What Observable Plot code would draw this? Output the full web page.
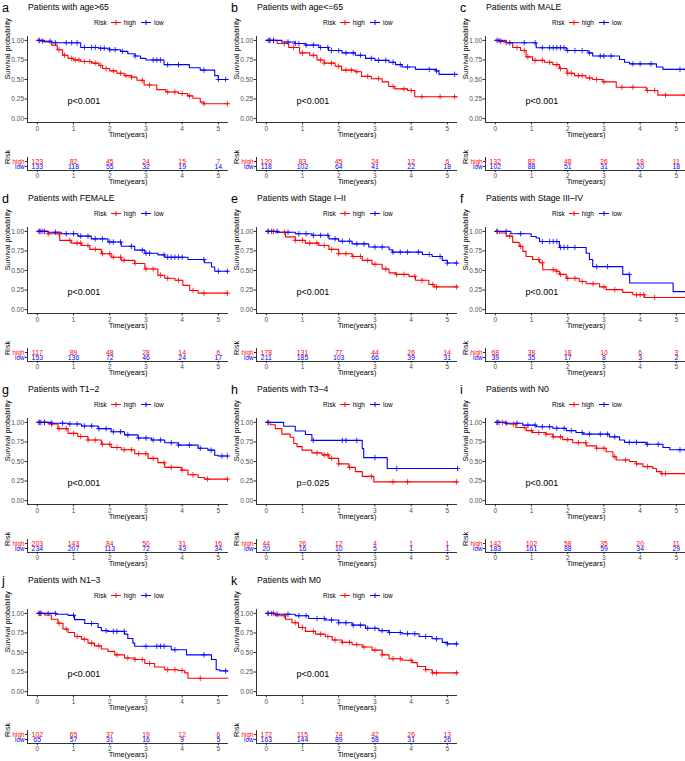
<!DOCTYPE html>
<html><head><meta charset="utf-8">
<script src="https://cdn.jsdelivr.net/npm/d3@7"></script>
<script src="https://cdn.jsdelivr.net/npm/@observablehq/plot@0.6"></script>
<style>
body{margin:0;background:#fff;font-family:"Liberation Sans",Arial,Helvetica,sans-serif;}
#root{position:relative;width:685px;height:761px;overflow:hidden;background:#fff;}
.panel{position:absolute;width:228px;height:191px;}
.letter{position:absolute;left:2px;top:2px;font-size:12.5px;line-height:12.5px;color:#000;}
.title{position:absolute;left:28px;top:2.5px;font-size:8.7px;line-height:8.7px;color:#000;white-space:nowrap;}
.legend{position:absolute;left:94px;top:19px;height:7px;display:flex;align-items:center;font-size:6.5px;line-height:7px;color:#000;white-space:nowrap;}
.legend svg{display:block;margin:0 3px;}
.panel > svg{position:absolute;left:0;overflow:visible;}
</style>
</head><body><div id="root"></div>
<script>
// ---------- data ----------
const xTicks = [0, 1, 2, 3, 4, 5];
const yTicks = [0, 0.25, 0.5, 0.75, 1];
const riskGroups = ["high", "low"];
const groupColors = ["#FF0000", "#0000FF"];

const letters = ["a","b","c","d","e","f","g","h","i","j","k"];
const titles = ["Patients with age>65","Patients with age<=65","Patients with MALE","Patients with FEMALE",
  "Patients with Stage I\u2013II","Patients with Stage III\u2013IV","Patients with T1\u20132","Patients with T3\u20134",
  "Patients with N0","Patients with N1\u20133","Patients with M0"];
const pvalues = ["p<0.001","p<0.001","p<0.001","p<0.001","p<0.001","p<0.001","p<0.001","p=0.025","p<0.001","p<0.001","p<0.001"];

// numbers at risk at 0..5 years
const riskHigh = [
  [123,82,45,24,15,7],[120,83,45,24,12,6],[132,82,48,26,18,11],[117,89,48,28,14,6],
  [178,131,77,44,26,14],[68,38,18,10,6,3],[203,143,84,50,31,16],[44,26,12,4,1,1],
  [142,102,58,35,20,11],[102,65,37,19,12,6],[172,115,74,42,26,13]];
const riskLow = [
  [133,118,55,32,19,14],[118,102,64,41,22,18],[102,88,51,31,20,18],[153,136,72,46,24,17],
  [211,185,103,66,39,31],[39,35,17,8,3,2],[234,207,113,72,43,34],[20,16,10,5,1,1],
  [183,161,88,59,34,29],[65,57,31,16,9,5],[163,144,89,58,31,26]];

// Kaplan-Meier steps: [time, survival after step]
const a_high = [[0,1],[0.2,0.98],[0.4,0.94],[0.55,0.88],[0.7,0.81],[0.85,0.77],[1.0,0.75],[1.2,0.73],[1.5,0.71],[1.7,0.68],[1.8,0.64],[2.0,0.61],[2.2,0.58],[2.4,0.55],[2.6,0.53],[2.75,0.49],[2.95,0.43],[3.3,0.37],[3.55,0.34],[3.9,0.32],[4.15,0.29],[4.3,0.26],[4.5,0.21],[4.6,0.19],[5.27,0.19]];
const a_low = [[0,1],[0.15,0.99],[0.4,0.97],[1.2,0.91],[1.7,0.90],[2.0,0.88],[2.3,0.86],[2.5,0.83],[2.7,0.80],[2.85,0.77],[3.0,0.75],[3.5,0.69],[4.2,0.65],[4.5,0.62],[4.9,0.55],[5.0,0.50],[5.27,0.50]];
const b_high = [[0,1],[0.3,0.96],[0.62,0.91],[0.92,0.84],[1.2,0.81],[1.4,0.75],[1.6,0.71],[1.9,0.67],[2.08,0.62],[2.45,0.60],[2.63,0.54],[2.9,0.51],[3.2,0.47],[3.38,0.41],[3.55,0.38],[3.9,0.36],[4.1,0.28],[5.27,0.28]];
const b_low = [[0,1],[0.43,0.98],[0.8,0.96],[1.08,0.94],[1.45,0.91],[1.72,0.87],[2.09,0.84],[2.46,0.81],[2.74,0.77],[3.0,0.745],[3.39,0.72],[3.57,0.69],[3.75,0.66],[4.12,0.63],[4.68,0.61],[4.77,0.565],[5.27,0.565]];
const c_high = [[0,1],[0.3,0.97],[0.48,0.91],[0.7,0.87],[0.85,0.79],[1.03,0.745],[1.36,0.72],[1.59,0.69],[1.77,0.64],[1.98,0.58],[2.19,0.55],[2.5,0.52],[2.69,0.50],[2.97,0.47],[3.34,0.40],[4.17,0.36],[4.49,0.30],[5.28,0.295]];
const c_low = [[0,1],[0.12,0.99],[0.3,0.97],[1.13,0.906],[1.96,0.87],[2.56,0.84],[2.69,0.80],[3.43,0.755],[3.57,0.72],[3.71,0.70],[4.45,0.66],[4.63,0.63],[5.28,0.63]];
const d_high = [[0,1],[0.3,0.97],[0.62,0.885],[0.94,0.85],[1.22,0.82],[1.45,0.77],[1.77,0.715],[2.04,0.67],[2.32,0.63],[2.69,0.59],[2.97,0.52],[3.33,0.44],[3.52,0.40],[3.8,0.375],[4.02,0.31],[4.21,0.245],[4.44,0.21],[5.26,0.21]];
const d_low = [[0,1],[0.3,0.99],[0.66,0.97],[1.12,0.94],[1.49,0.905],[1.95,0.865],[2.32,0.81],[2.69,0.76],[2.97,0.72],[3.33,0.70],[3.52,0.67],[4.16,0.64],[4.62,0.60],[4.81,0.545],[4.9,0.49],[5.26,0.49]];
const e_high = [[0,1],[0.25,0.99],[0.53,0.93],[0.8,0.885],[1.08,0.85],[1.45,0.82],[1.73,0.77],[2.0,0.715],[2.37,0.68],[2.65,0.63],[2.92,0.58],[3.2,0.52],[3.39,0.47],[3.57,0.45],[3.94,0.425],[4.12,0.375],[4.49,0.32],[4.63,0.29],[5.28,0.29]];
const e_low = [[0,1],[0.34,0.99],[0.8,0.97],[1.26,0.95],[1.73,0.905],[2.0,0.875],[2.37,0.84],[2.83,0.80],[3.39,0.765],[3.48,0.735],[4.31,0.705],[4.58,0.68],[4.86,0.63],[5.0,0.595],[5.28,0.595]];
const f_high = [[0,1],[0.11,0.98],[0.3,0.94],[0.48,0.86],[0.66,0.81],[0.76,0.745],[0.85,0.68],[1.03,0.64],[1.22,0.60],[1.31,0.51],[1.68,0.49],[1.77,0.45],[1.96,0.40],[2.32,0.36],[2.51,0.33],[2.88,0.29],[3.06,0.255],[3.52,0.22],[3.8,0.19],[4.12,0.155],[5.28,0.155]];
const f_low = [[0,1],[0.43,0.97],[0.99,0.935],[1.13,0.915],[1.22,0.87],[1.77,0.795],[2.51,0.72],[2.6,0.64],[2.69,0.55],[3.52,0.45],[3.71,0.34],[4.91,0.23],[5.28,0.23]];
const g_high = [[0,1],[0.3,0.98],[0.57,0.92],[0.85,0.86],[1.12,0.82],[1.4,0.775],[1.77,0.72],[2.04,0.68],[2.32,0.65],[2.69,0.60],[3.06,0.54],[3.33,0.485],[3.52,0.425],[3.98,0.39],[4.16,0.33],[4.44,0.295],[4.62,0.275],[5.26,0.275]];
const g_low = [[0,1],[0.39,0.99],[0.85,0.98],[1.22,0.955],[1.68,0.92],[2.04,0.88],[2.41,0.84],[2.78,0.80],[3.15,0.775],[3.52,0.74],[3.89,0.71],[4.44,0.67],[4.71,0.645],[4.9,0.58],[4.99,0.57],[5.26,0.57]];
const h_high = [[0,1],[0.11,0.97],[0.25,0.92],[0.43,0.85],[0.66,0.81],[0.76,0.73],[0.85,0.69],[0.99,0.645],[1.26,0.61],[1.54,0.585],[1.73,0.54],[2.0,0.47],[2.28,0.425],[2.46,0.37],[2.65,0.31],[2.97,0.24],[5.28,0.24]];
const h_low = [[0,1],[0.48,0.95],[0.8,0.89],[1.08,0.845],[1.26,0.77],[2.65,0.665],[2.69,0.55],[3.34,0.41],[5.28,0.41]];
const i_high = [[0,1],[0.3,0.98],[0.57,0.935],[0.85,0.895],[1.03,0.87],[1.4,0.85],[1.59,0.815],[1.86,0.78],[2.14,0.74],[2.51,0.70],[2.79,0.67],[3.06,0.625],[3.25,0.56],[3.34,0.52],[3.71,0.50],[3.89,0.47],[4.08,0.435],[4.35,0.41],[4.45,0.37],[4.58,0.345],[5.28,0.345]];
const i_low = [[0,1],[0.3,0.99],[0.76,0.965],[1.13,0.945],[1.59,0.925],[1.96,0.895],[2.23,0.87],[2.42,0.85],[3.15,0.815],[3.43,0.775],[3.57,0.745],[4.17,0.72],[4.63,0.68],[4.82,0.65],[5.28,0.65]];
const j_high = [[0,1],[0.2,0.98],[0.39,0.925],[0.57,0.875],[0.71,0.80],[0.85,0.755],[1.03,0.705],[1.22,0.67],[1.4,0.62],[1.58,0.585],[1.77,0.545],[1.95,0.515],[2.14,0.47],[2.41,0.43],[2.69,0.41],[2.97,0.36],[3.24,0.315],[3.52,0.28],[3.89,0.27],[4.07,0.24],[4.16,0.17],[5.26,0.17]];
const j_low = [[0,1],[0.52,0.99],[0.85,0.975],[1.03,0.92],[1.31,0.87],[1.68,0.82],[1.77,0.78],[1.95,0.77],[2.41,0.735],[2.5,0.68],[2.64,0.62],[2.69,0.58],[3.7,0.535],[4.12,0.47],[4.81,0.41],[4.94,0.28],[5.04,0.265],[5.26,0.265]];
const k_high = [[0,1],[0.25,0.97],[0.53,0.925],[0.71,0.88],[0.89,0.82],[1.08,0.77],[1.36,0.735],[1.63,0.705],[1.82,0.66],[2.09,0.63],[2.37,0.60],[2.65,0.57],[2.92,0.53],[3.2,0.47],[3.39,0.42],[3.75,0.40],[4.03,0.37],[4.17,0.32],[4.4,0.28],[4.58,0.24],[5.28,0.24]];
const k_low = [[0,1],[0.25,0.99],[0.8,0.97],[1.17,0.935],[1.63,0.915],[2.0,0.88],[2.37,0.85],[2.74,0.81],[3.11,0.78],[3.39,0.755],[3.75,0.74],[4.22,0.705],[4.58,0.675],[4.86,0.63],[5.0,0.61],[5.28,0.61]];

// censoring times
const a_highC = [0.05,0.6,0.75,0.95,1.05,1.15,1.3,1.45,1.6,1.75,1.9,2.1,2.3,2.45,2.6,2.9,3.1,3.6,3.8,4.0,4.2,4.6,5.25];
const a_lowC = [0.05,0.15,0.35,0.5,0.8,0.95,1.1,1.3,1.5,1.6,1.75,1.85,2.0,2.15,2.35,2.7,3.2,3.3,3.4,3.6,3.9,4.6,5.0,5.2];
const b_highC = [0.1,0.2,0.5,0.75,1.0,1.3,1.5,1.6,1.8,2.0,2.2,2.35,2.5,2.8,3.1,3.5,3.8,4.0,4.3,4.8,5.2];
const b_lowC = [0.05,0.1,0.2,0.6,0.8,0.9,1.1,1.3,1.5,1.7,1.8,2.0,2.2,2.4,2.6,2.9,3.1,3.3,3.5,3.7,3.9,4.5,4.7,5.2];
const c_highC = [0.1,0.3,0.6,0.8,0.9,1.1,1.3,1.5,1.7,1.8,2.0,2.1,2.3,2.4,2.6,2.8,3.0,3.5,3.8,4.2,4.4,4.7,5.25];
const c_lowC = [0.05,0.15,0.4,0.8,1.1,1.3,1.5,1.6,1.7,1.8,1.9,2.0,2.2,2.4,2.6,2.9,3.0,3.2,3.8,4.0,4.3,5.1,5.25];
const d_highC = [0.05,0.15,0.3,0.6,0.9,1.1,1.2,1.4,1.6,1.8,2.0,2.1,2.3,2.4,2.7,3.0,3.2,3.4,3.6,3.9,4.3,4.6,5.25];
const d_lowC = [0.05,0.1,0.2,0.5,0.8,1.0,1.2,1.4,1.6,1.8,2.0,2.1,2.3,2.6,2.9,3.0,3.1,3.5,3.6,3.7,3.8,3.9,4.0,4.6,5.0,5.25];
const e_highC = [0.05,0.2,0.5,0.8,1.0,1.2,1.4,1.6,1.8,2.0,2.2,2.4,2.6,2.8,3.0,3.3,3.6,3.8,4.1,4.3,4.6,4.7,5.25];
const e_lowC = [0.05,0.15,0.3,0.6,0.9,1.1,1.3,1.5,1.7,1.9,2.1,2.3,2.5,2.7,3.0,3.2,3.5,3.7,3.9,4.2,4.5,4.8,5.0,5.25];
const f_highC = [0.05,0.4,0.7,1.2,1.3,1.6,1.7,1.8,2.0,2.2,2.4,2.7,3.0,3.3,3.9,4.0,4.1,4.4];
const f_lowC = [0.05,0.3,0.7,1.3,1.5,1.6,1.7,1.8,1.9,2.0,2.2,2.8,3.1,3.7];
const g_highC = [0.05,0.2,0.4,0.6,0.8,1.0,1.2,1.4,1.6,1.8,2.0,2.2,2.4,2.6,2.8,3.0,3.2,3.5,3.7,4.0,4.3,4.7,5.25];
const g_lowC = [0.05,0.1,0.2,0.4,0.7,0.9,1.1,1.3,1.5,1.7,1.9,2.1,2.3,2.5,2.8,3.0,3.2,3.4,3.7,3.9,4.2,4.5,4.8,5.1,5.25];
const h_highC = [0.05,1.4,1.6,1.7,1.8,2.0,2.3,2.9,3.5,3.9,5.25];
const h_lowC = [0.05,1.3,2.1,2.2,2.5,3.0,3.6,5.28];
const i_highC = [0.05,0.2,0.5,0.8,1.0,1.2,1.4,1.6,1.8,2.0,2.3,2.5,2.8,3.0,3.3,3.6,3.9,4.2,4.6,4.7,5.25];
const i_lowC = [0.05,0.1,0.3,0.6,0.9,1.1,1.3,1.5,1.7,1.9,2.1,2.4,2.6,2.9,3.1,3.3,3.7,3.9,4.2,4.5,5.1,5.25];
const j_highC = [0.05,0.1,0.6,0.8,1.1,1.3,1.5,1.7,2.2,2.5,2.7,2.9,3.1,3.6,3.8,4.0,4.5];
const j_lowC = [0.05,0.1,0.3,0.5,1.0,1.5,1.9,2.1,2.2,2.4,3.0,3.3,3.4,3.5,3.8,4.6,5.2];
const k_highC = [0.05,0.2,0.5,0.8,1.0,1.3,1.5,1.7,1.9,2.1,2.3,2.5,2.7,3.0,3.2,3.5,3.7,4.0,4.4,4.6,4.7,5.25];
const k_lowC = [0.05,0.15,0.3,0.6,0.9,1.1,1.4,1.6,1.8,2.0,2.2,2.4,2.6,2.8,3.0,3.2,3.4,3.7,3.9,4.1,4.4,4.7,5.0,5.25];

const curvesHigh = [a_high,b_high,c_high,d_high,e_high,f_high,g_high,h_high,i_high,j_high,k_high];
const curvesLow = [a_low,b_low,c_low,d_low,e_low,f_low,g_low,h_low,i_low,j_low,k_low];
const censHigh = [a_highC,b_highC,c_highC,d_highC,e_highC,f_highC,g_highC,h_highC,i_highC,j_highC,k_highC];
const censLow = [a_lowC,b_lowC,c_lowC,d_lowC,e_lowC,f_lowC,g_lowC,h_lowC,i_lowC,j_lowC,k_lowC];

// ---------- drawing ----------
const xdom = [-0.27, 5.28];
const FONT = "Liberation Sans, Arial, Helvetica, sans-serif";
const root = document.getElementById("root");

function survAt(steps, t) {
  let s = 1;
  for (const [tt, ss] of steps) { if (tt <= t) s = ss; else break; }
  return s;
}

function kmPlot(i) {
  const lines = [], cens = [];
  riskGroups.forEach((g, gi) => {
    const steps = gi === 0 ? curvesHigh[i] : curvesLow[i];
    const cs = gi === 0 ? censHigh[i] : censLow[i];
    steps.forEach(([t, s]) => lines.push({t, s, g}));
    cs.forEach(t => cens.push({t, s: survAt(steps, t), g}));
  });
  return Plot.plot({
    width: 228, height: 145,
    marginTop: 36, marginBottom: 23, marginLeft: 27, marginRight: 0,
    style: {fontFamily: FONT, fontSize: "6.5px", background: "transparent", overflow: "visible"},
    x: {domain: xdom},
    y: {domain: [-0.05, 1.05]},
    color: {domain: riskGroups, range: groupColors},
    marks: [
      Plot.axisY({ticks: yTicks, tickFormat: d3.format(".2f"), tickSize: 2.5, tickPadding: 1, fill: "#4d4d4d", stroke: "#333", label: null, fontSize: 6.5}),
      Plot.axisX({ticks: xTicks, tickFormat: d3.format("d"), tickSize: 2.5, tickPadding: 1, fill: "#4d4d4d", stroke: "#333", label: null, fontSize: 6.5}),
      Plot.ruleX([xdom[0]], {stroke: "#000", strokeWidth: 0.8}),
      Plot.ruleY([-0.05], {stroke: "#000", strokeWidth: 0.8}),
      Plot.line(lines, {x: "t", y: "s", z: "g", stroke: "g", curve: "step-after", strokeWidth: 1.1}),
      Plot.dot(cens, {x: "t", y: "s", stroke: "g", symbol: "plus", r: 1.9, strokeWidth: 0.8}),
      Plot.text([pvalues[i]], {frameAnchor: "bottom-left", dx: 40, dy: -19, fontSize: 9, fill: "#000"}),
      Plot.text(["Survival probability"], {frameAnchor: "left", rotate: -90, dx: -20, fontSize: 7.3, fill: "#000"}),
      Plot.text(["Time(years)"], {frameAnchor: "bottom", dy: 14, fontSize: 7.3, fill: "#000"})
    ]
  });
}

function riskPlot(i) {
  const rows = [];
  xTicks.forEach((t, k) => {
    rows.push({t, g: "high", n: riskHigh[i][k]});
    rows.push({t, g: "low", n: riskLow[i][k]});
  });
  return Plot.plot({
    width: 228, height: 40,
    marginTop: 7, marginBottom: 20, marginLeft: 27, marginRight: 0,
    style: {fontFamily: FONT, fontSize: "6.5px", background: "transparent", overflow: "visible"},
    x: {domain: xdom},
    y: {type: "point", domain: riskGroups, range: [11, 16], padding: 0},
    color: {domain: riskGroups, range: groupColors},
    marks: [
      Plot.axisX({ticks: xTicks, tickFormat: d3.format("d"), tickSize: 2, tickPadding: 0.5, fill: "#4d4d4d", stroke: "#333", label: null, fontSize: 6.5}),
      Plot.axisY({tickSize: 2, tickPadding: 1, fill: (d) => d, stroke: "#333", label: null, fontSize: 6.3}),
      Plot.ruleX([xdom[0]], {stroke: "#000", strokeWidth: 0.8}),
      Plot.ruleY(["low"], {dy: 4, stroke: "#000", strokeWidth: 0.8}),
      Plot.text(rows, {x: "t", y: "g", text: "n", fill: "g", fontSize: 6.8}),
      Plot.text(["Risk"], {frameAnchor: "left", rotate: -90, dx: -20, fontSize: 7.3, fill: "#000"}),
      Plot.text(["Time(years)"], {frameAnchor: "bottom", dy: 13, fontSize: 7.3, fill: "#000"})
    ]
  });
}

function glyph(color) {
  return `<svg width="10" height="5" viewBox="0 0 10 5"><line x1="0" y1="2.5" x2="10" y2="2.5" stroke="${color}" stroke-width="1"/><line x1="5" y1="0" x2="5" y2="5" stroke="${color}" stroke-width="1"/></svg>`;
}

for (let i = 0; i < letters.length; i++) {
  const col = i % 3, row = Math.floor(i / 3);
  const p = document.createElement("div");
  p.className = "panel";
  p.style.left = (col * 229) + "px";
  p.style.top = (row * 191) + "px";
  root.appendChild(p);

  const L = document.createElement("div"); L.className = "letter"; L.textContent = letters[i]; p.appendChild(L);
  const T = document.createElement("div"); T.className = "title"; T.textContent = titles[i]; p.appendChild(T);
  const lg = document.createElement("div"); lg.className = "legend";
  lg.innerHTML = `<span>Risk</span><span style="width:1px"></span>${glyph(groupColors[0])}<span>${riskGroups[0]}</span><span style="width:2px"></span>${glyph(groupColors[1])}<span>${riskGroups[1]}</span>`;
  p.appendChild(lg);

  const k = kmPlot(i); k.style.top = "0px"; p.appendChild(k);
  const r = riskPlot(i); r.style.top = "150px"; p.appendChild(r);
}
</script>
</body></html>
